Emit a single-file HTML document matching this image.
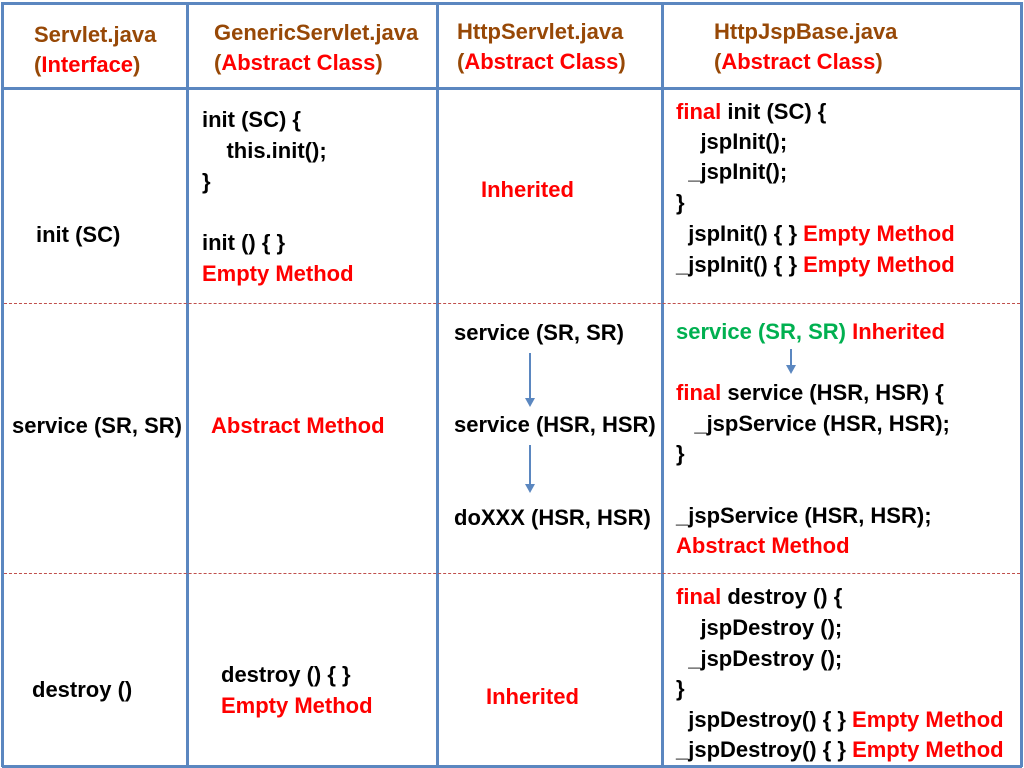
<!DOCTYPE html>
<html><head><meta charset="utf-8"><style>
body{margin:0;width:1024px;height:768px;background:#fff;position:relative;overflow:hidden;font-family:"Liberation Sans",sans-serif;font-weight:bold;font-size:22px;color:#000}
.t{position:absolute;white-space:pre;line-height:24px}
.r{color:#f00}.b{color:#974806}.g{color:#00b050}
.v{position:absolute;top:2px;width:3px;height:765px;background:#5b87c0}
.h{position:absolute;left:2px;width:1020px;height:3px;background:#5b87c0}
.d{position:absolute;left:4px;width:1016px;height:0;border-top:1px dashed #c0504d}
.ar{position:absolute;width:2px;background:#5b87c0}
.ah{position:absolute;width:0;height:0;border-left:5px solid transparent;border-right:5px solid transparent;border-top:9px solid #5b87c0}
</style></head><body>
<div class="h" style="top:2px"></div>
<div class="h" style="top:87px"></div>
<div class="h" style="top:765px"></div>
<div class="v" style="left:1px"></div>
<div class="v" style="left:186px"></div>
<div class="v" style="left:436px"></div>
<div class="v" style="left:661px"></div>
<div class="v" style="left:1020px"></div>
<div class="d" style="top:303px"></div>
<div class="d" style="top:573px"></div>

<div class="t b" style="left:34px;top:23px">Servlet.java</div>
<div class="t b" style="left:34px;top:53px">(<span class="r">Interface</span>)</div>
<div class="t b" style="left:214px;top:21px">GenericServlet.java</div>
<div class="t b" style="left:214px;top:51px">(<span class="r">Abstract Class</span>)</div>
<div class="t b" style="left:457px;top:20px">HttpServlet.java</div>
<div class="t b" style="left:457px;top:50px">(<span class="r">Abstract Class</span>)</div>
<div class="t b" style="left:714px;top:20px">HttpJspBase.java</div>
<div class="t b" style="left:714px;top:50px">(<span class="r">Abstract Class</span>)</div>

<div class="t" style="left:36px;top:223px">init (SC)</div>
<div class="t" style="left:12px;top:414px">service (SR, SR)</div>
<div class="t" style="left:32px;top:678px">destroy ()</div>

<div class="t" style="left:202px;top:108px">init (SC) {</div>
<div class="t" style="left:202px;top:139px">    this.init();</div>
<div class="t" style="left:202px;top:170px">}</div>
<div class="t" style="left:202px;top:231px">init () { }</div>
<div class="t r" style="left:202px;top:262px">Empty Method</div>
<div class="t r" style="left:211px;top:414px">Abstract Method</div>
<div class="t" style="left:221px;top:663px">destroy () { }</div>
<div class="t r" style="left:221px;top:694px">Empty Method</div>

<div class="t r" style="left:481px;top:178px">Inherited</div>
<div class="t" style="left:454px;top:321px">service (SR, SR)</div>
<div class="ar" style="left:529px;top:353px;height:48px"></div>
<div class="ah" style="left:525px;top:398px"></div>
<div class="t" style="left:454px;top:413px">service (HSR, HSR)</div>
<div class="ar" style="left:529px;top:445px;height:40px"></div>
<div class="ah" style="left:525px;top:484px"></div>
<div class="t" style="left:454px;top:506px">doXXX (HSR, HSR)</div>
<div class="t r" style="left:486px;top:685px">Inherited</div>

<div class="t" style="left:676px;top:100px"><span class="r">final</span> init (SC) {</div>
<div class="t" style="left:676px;top:130px">    jspInit();</div>
<div class="t" style="left:676px;top:160px">  _jspInit();</div>
<div class="t" style="left:676px;top:191px">}</div>
<div class="t" style="left:676px;top:222px">  jspInit() { } <span class="r">Empty Method</span></div>
<div class="t" style="left:676px;top:253px">_jspInit() { } <span class="r">Empty Method</span></div>
<div class="t g" style="left:676px;top:320px">service (SR, SR) <span class="r">Inherited</span></div>
<div class="ar" style="left:790px;top:349px;height:18px"></div>
<div class="ah" style="left:786px;top:365px"></div>
<div class="t" style="left:676px;top:381px"><span class="r">final</span> service (HSR, HSR) {</div>
<div class="t" style="left:676px;top:412px">   _jspService (HSR, HSR);</div>
<div class="t" style="left:676px;top:442px">}</div>
<div class="t" style="left:676px;top:504px">_jspService (HSR, HSR);</div>
<div class="t r" style="left:676px;top:534px">Abstract Method</div>
<div class="t" style="left:676px;top:585px"><span class="r">final</span> destroy () {</div>
<div class="t" style="left:676px;top:616px">    jspDestroy ();</div>
<div class="t" style="left:676px;top:647px">  _jspDestroy ();</div>
<div class="t" style="left:676px;top:677px">}</div>
<div class="t" style="left:676px;top:708px">  jspDestroy() { } <span class="r">Empty Method</span></div>
<div class="t" style="left:676px;top:738px">_jspDestroy() { } <span class="r">Empty Method</span></div>
</body></html>
